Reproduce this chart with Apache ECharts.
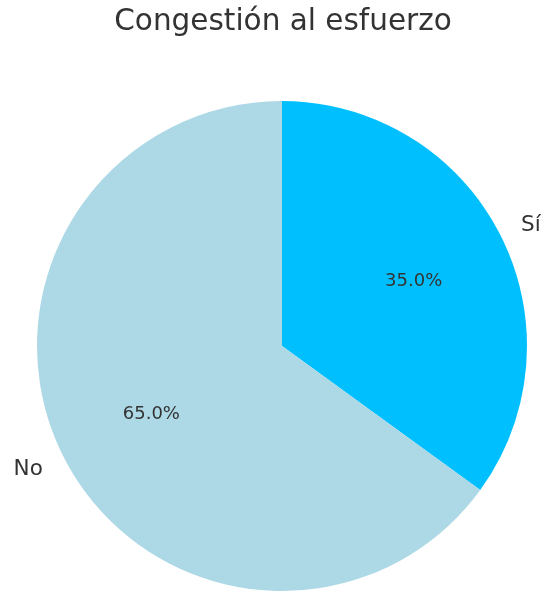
<!DOCTYPE html>
<html>
<head>
<meta charset="utf-8">
<script src="https://cdn.jsdelivr.net/npm/echarts@6/dist/echarts.min.js"></script>
<style>
  html, body { margin: 0; padding: 0; background: #fff; }
  #chart { width: 545px; height: 592px; }
</style>
</head>
<body>
<div id="chart"></div>
<script>
const categories = ['Sí', 'No']
const values = [35, 65]
const colors = ['#00BFFF', '#ADD8E6']

const R = 245
const center = [282, 346]
const font = 'DejaVu Sans'
const total = values.reduce((a, b) => a + b, 0)

const chart = echarts.init(document.getElementById('chart'))

const base = categories.map((name, i) => ({ name: name, value: values[i] }))

chart.setOption({
  animation: false,
  title: {
    text: 'Congestión al esfuerzo',
    left: 278,
    textAlign: 'center',
    top: 2,
    textStyle: { fontFamily: font, fontSize: 29.5, fontWeight: 'normal', color: '#333' }
  },
  series: [
    {
      // colored slices
      type: 'pie',
      center: center,
      radius: [0, R],
      startAngle: 90,
      clockwise: true,
      silent: true,
      label: { show: false },
      labelLine: { show: false },
      data: base.map((d, i) => ({ ...d, itemStyle: { color: colors[i] } }))
    },
    {
      // percentage labels at 0.6 R
      type: 'pie',
      center: center,
      radius: [0, R * 1.2],
      startAngle: 90,
      clockwise: true,
      silent: true,
      itemStyle: { color: 'transparent' },
      label: {
        show: true,
        position: 'inside',
        fontFamily: font,
        fontSize: 18,
        color: '#333',
        formatter: p => (p.value / total * 100).toFixed(1) + '%'
      },
      labelLine: { show: false },
      data: [
        { ...base[0], label: { offset: [-2, 3] } },
        { ...base[1], label: { offset: [3, 0] } }
      ]
    },
    {
      // category labels at 1.1 R
      type: 'pie',
      center: center,
      radius: [R, R * 1.2],
      startAngle: 90,
      clockwise: true,
      silent: true,
      itemStyle: { color: 'transparent' },
      label: {
        show: true,
        position: 'inside',
        fontFamily: font,
        fontSize: 21.5,
        color: '#333',
        formatter: '{b}'
      },
      labelLine: { show: false },
      data: [
        { ...base[0], label: { align: 'left', offset: [6, 3] } },
        { ...base[1], label: { align: 'right', offset: [-11, 0] } }
      ]
    }
  ]
})
</script>
</body>
</html>
